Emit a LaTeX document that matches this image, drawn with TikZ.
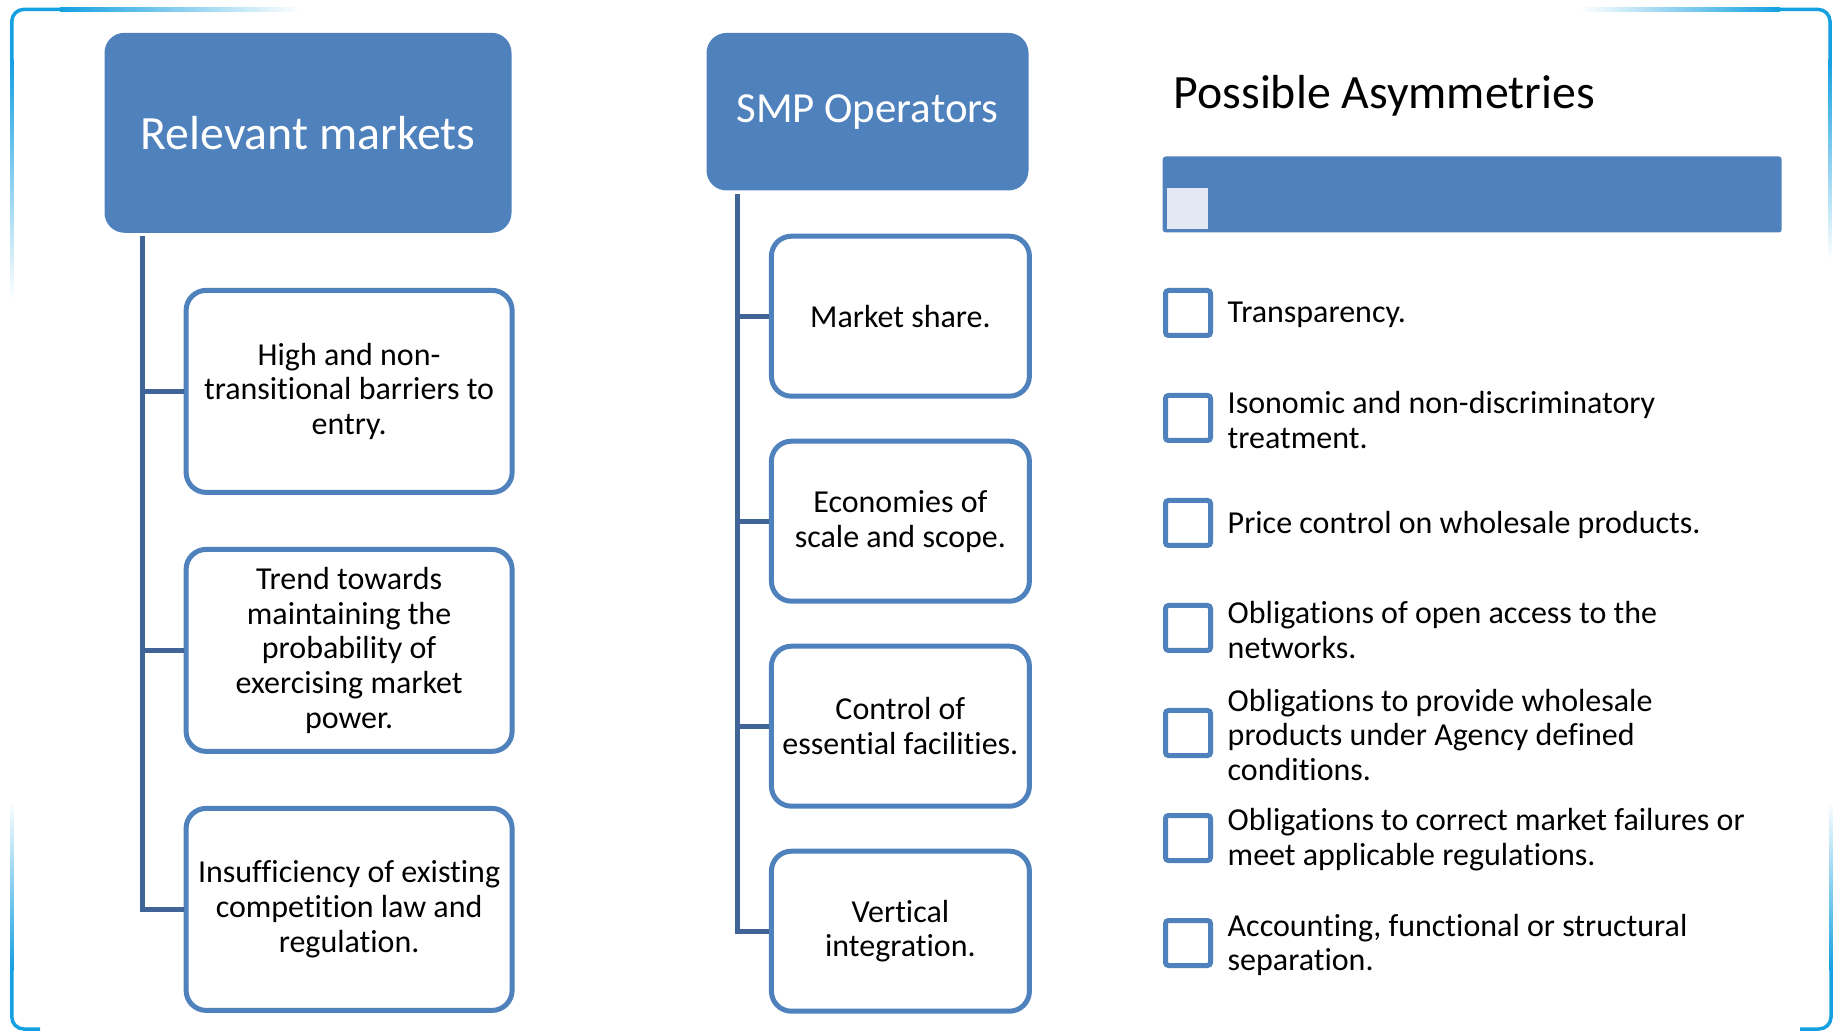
\documentclass[tikz,border=0pt]{standalone}
\usepackage{fontspec}
\setmainfont{Carlito}[Ligatures={NoCommon}]
\usepackage{xcolor}
\usepackage{tikz}
\usetikzlibrary{positioning,shapes}
\definecolor{smpblue}{RGB}{79,129,189}
\definecolor{spinecol}{RGB}{64,100,152}
\definecolor{framecol}{RGB}{20,160,225}
\definecolor{markfill}{RGB}{226,233,243}
\newcommand{\titlefont}{\fontsize{13.6}{16}\selectfont}
\newcommand{\smptitlefont}{\fontsize{12.2}{14.6}\selectfont}
\newcommand{\bodyfont}{\fontsize{9.1}{9.9}\selectfont}
\tikzset{
  headbox/.style={rectangle,rounded corners=2mm,fill=smpblue,text=white,
    font=\titlefont,inner sep=0pt},
  itembox/.style={rectangle,rounded corners=2mm,draw=smpblue,line width=0.5mm,
    fill=white,align=center,font=\bodyfont,inner sep=0pt},
  tickbox/.style={rectangle,draw=smpblue,line width=0.5mm,fill=white,
    minimum size=4.5mm,inner sep=0pt,rounded corners=0.3mm},
  ticktext/.style={align=left,font=\bodyfont,inner sep=0pt,anchor=west,yshift=-0.2mm},
  spine/.style={draw=spinecol,line width=0.5mm},
  glow/.style={draw=framecol,line width=0.35mm,rounded corners=1.2mm}
}
\begin{document}
\begin{tikzpicture}[x=1mm,y=-1mm]
  \useasboundingbox (0,0) rectangle (184.3,103.2);
  %% frame corners
  \draw[glow] (1.18,6) -- (1.18,0.94) -- (6,0.94);
  \shade[left color=framecol,right color=white] (6,0.765) rectangle (30,1.115);
  \shade[top color=framecol,bottom color=white] (1.005,6) rectangle (1.355,30);
  \draw[glow] (178,0.94) -- (183.0,0.94) -- (183.0,6);
  \shade[left color=white,right color=framecol] (158,0.765) rectangle (178,1.115);
  \shade[top color=framecol,bottom color=white] (182.825,6) rectangle (183.175,26);
  \draw[glow] (1.18,97) -- (1.18,102.9) -- (4,102.9);
  \shade[top color=white,bottom color=framecol] (1.005,80) rectangle (1.355,97);
  \draw[glow] (183.1,97) -- (183.1,102.9) -- (180,102.9);
  \shade[top color=white,bottom color=framecol] (182.925,80) rectangle (183.275,97);

  %% relevant markets
  \node[headbox,minimum width=40.7mm,minimum height=20mm] (rm) at (30.8,13.28) {Relevant markets};
  \node[itembox,minimum width=32.6mm,minimum height=20.2mm] (rm1) at (34.91,39.14)
    {High and non-\\transitional barriers to\\entry.};
  \node[itembox,minimum width=32.6mm,minimum height=20.2mm,below=5.2mm of rm1] (rm2)
    {Trend towards\\maintaining the\\probability of\\exercising market\\power.};
  \node[itembox,minimum width=32.6mm,minimum height=20.2mm,below=5.2mm of rm2] (rm3)
    {Insufficiency of existing\\competition law and\\regulation.};
  \coordinate (rmtop) at (14.22,23.6);
  \draw[spine] (rmtop) |- (rm3.west);
  \draw[spine] (rmtop |- rm1.west) -- (rm1.west);
  \draw[spine] (rmtop |- rm2.west) -- (rm2.west);

  %% smp operators
  \node[headbox,font=\smptitlefont,minimum width=32.2mm,minimum height=15.75mm] (smp) at (86.75,11.17) {SMP Operators};
  \node[itembox,minimum width=25.8mm,minimum height=16mm] (smp1) at (90.04,31.62) {Market share.};
  \node[itembox,minimum width=25.8mm,minimum height=16mm,below=4mm of smp1] (smp2)
    {Economies of\\scale and scope.};
  \node[itembox,minimum width=25.8mm,minimum height=16mm,below=4mm of smp2] (smp3)
    {Control of\\essential facilities.};
  \node[itembox,minimum width=25.8mm,minimum height=16mm,below=4mm of smp3] (smp4)
    {Vertical\\integration.};
  \coordinate (smptop) at (73.7,19.4);
  \draw[spine] (smptop) |- (smp4.west);
  \foreach \i in {1,2,3}
    \draw[spine] (smptop |- smp\i.west) -- (smp\i.west);

  %% possible asymmetries
  \node[font=\titlefont,inner sep=0pt,anchor=west] (asym) at (117.3,9.6) {Possible Asymmetries};
  \node[rectangle,fill=smpblue,rounded corners=0.3mm,minimum width=61.9mm,minimum height=7.6mm,
    inner sep=0pt] (asymbar) at (147.22,19.45) {};
  \node[rectangle,fill=markfill,minimum size=4.1mm,inner sep=0pt] (barmark) at (118.75,20.85) {};
  \node[tickbox] (cb1) at (118.8,31.3) {};
  \node[tickbox,below=5.5mm of cb1] (cb2) {};
  \node[tickbox,below=5.5mm of cb2] (cb3) {};
  \node[tickbox,below=5.5mm of cb3] (cb4) {};
  \node[tickbox,below=5.5mm of cb4] (cb5) {};
  \node[tickbox,below=5.5mm of cb5] (cb6) {};
  \node[tickbox,below=5.5mm of cb6] (cb7) {};
  \node[ticktext,right=1.4mm of cb1] (ob1) {Transparency.};
  \node[ticktext,right=1.4mm of cb2] (ob2) {Isonomic and non-discriminatory\\treatment.};
  \node[ticktext,right=1.4mm of cb3] (ob3) {Price control on wholesale products.};
  \node[ticktext,right=1.4mm of cb4] (ob4) {Obligations of open access to the\\networks.};
  \node[ticktext,right=1.4mm of cb5] (ob5) {Obligations to provide wholesale\\products under Agency defined\\conditions.};
  \node[ticktext,right=1.4mm of cb6] (ob6) {Obligations to correct market failures or\\meet applicable regulations.};
  \node[ticktext,right=1.4mm of cb7] (ob7) {Accounting, functional or structural\\separation.};
\end{tikzpicture}
\end{document}
